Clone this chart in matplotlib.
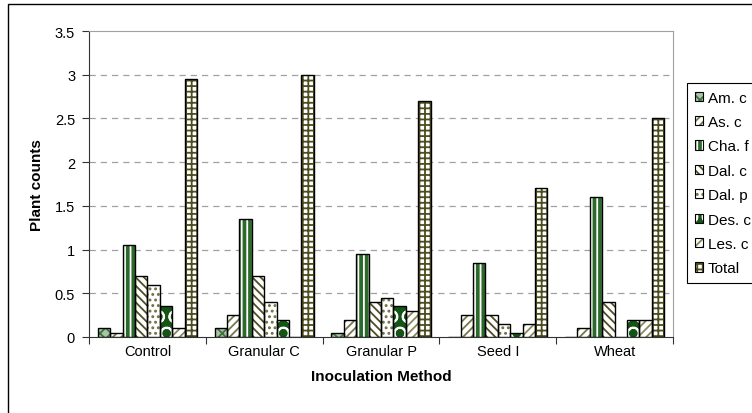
import numpy as np
import matplotlib.pyplot as plt
from matplotlib.patches import Rectangle
from matplotlib.legend_handler import HandlerTuple

plt.rcParams['font.family'] = ['Liberation Sans', 'DejaVu Sans']
plt.rcParams['hatch.linewidth'] = 1.3

# --- dados ---
metodos = ['Control', 'Granular C', 'Granular P', 'Seed I', 'Wheat']
especies = ['Am. c', 'As. c', 'Cha. f', 'Dal. c', 'Dal. p', 'Des. c', 'Les. c', 'Total']

am_c = [0.10, 0.10, 0.05, 0.00, 0.00]
as_c = [0.05, 0.25, 0.20, 0.25, 0.10]
cha_f = [1.05, 1.35, 0.95, 0.85, 1.60]
dal_c = [0.70, 0.70, 0.40, 0.25, 0.40]
dal_p = [0.60, 0.40, 0.45, 0.15, 0.00]
des_c = [0.35, 0.20, 0.35, 0.05, 0.20]
les_c = [0.10, 0.00, 0.30, 0.15, 0.20]
total = [2.95, 3.00, 2.70, 1.70, 2.50]

series = [am_c, as_c, cha_f, dal_c, dal_p, des_c, les_c, total]

# estilo de cada serie: (cor de fundo, hachura, cor da hachura)
estilos = [
    ('#a9c4a9', 'xxx', '#3f723f'),
    ('#ffffff', '////', '#77774a'),
    ('#2c6a2c', '|||', '#ffffff'),
    ('#ffffff', '\\\\\\\\', '#4f4f22'),
    ('#ffffff', '...', '#6f6f40'),
    ('#145414', 'O', '#ffffff'),
    ('#ffffff', '////', '#8a8a58'),
    ('#ffffff', '+++', '#4d4d1f'),
]

fig = plt.figure(figsize=(7.52, 4.14), dpi=100)
ax = fig.add_axes([89 / 752, 76 / 414, 584 / 752, 306 / 414])

x = np.arange(len(metodos)) + 0.5
largura = 0.106
n = len(series)

handles = []
for i, (valores, (fc, hatch, hc)) in enumerate(zip(series, estilos)):
    pos = x + (i - (n - 1) / 2) * largura
    ax.bar(pos, valores, largura, color=fc, hatch=hatch, edgecolor=hc,
           linewidth=0, zorder=3)
    ax.bar(pos, valores, largura, fill=False, edgecolor='black',
           linewidth=1.0, zorder=4)
    fundo = Rectangle((0, 0), 1, 1, facecolor=fc, hatch=hatch,
                      edgecolor=hc, linewidth=0)
    borda = Rectangle((0, 0), 1, 1, fill=False, edgecolor='black',
                      linewidth=0.8)
    handles.append((fundo, borda))

ax.set_xlim(0, len(metodos))
ax.set_ylim(0, 3.5)
ax.set_yticks(np.arange(0, 3.51, 0.5))
ax.set_yticklabels(['0', '0.5', '1', '1.5', '2', '2.5', '3', '3.5'])
ax.set_xticks(np.arange(0, len(metodos) + 1))
ax.set_xticklabels([])
ax.set_xticks(x, minor=True)
ax.set_xticklabels(metodos, minor=True)
ax.tick_params(axis='x', which='minor', length=0, pad=5, labelsize=10.5)
ax.tick_params(axis='x', which='major', length=5, direction='out', color='#333333')
ax.tick_params(axis='y', length=5, direction='out', pad=5, labelsize=10.5,
               color='#333333')

for g in np.arange(0.5, 3.01, 0.5):
    ax.axhline(g, color='#a0a0a0', linestyle=(0, (5, 4)), linewidth=0.9, zorder=1)

ax.spines['left'].set_color('#333333')
ax.spines['bottom'].set_color('#333333')
ax.spines['top'].set_color('#a0a0a0')
ax.spines['right'].set_color('#a0a0a0')

ax.set_ylabel('Plant counts', fontsize=11, fontweight='bold')
ax.set_xlabel('Inoculation Method', fontsize=11, fontweight='bold')
ax.yaxis.set_label_coords(-0.077, 0.5)
ax.xaxis.set_label_coords(0.5, -0.103)

leg = fig.legend(handles, especies, loc='upper left',
                 handler_map={tuple: HandlerTuple(ndivide=1, pad=0)},
                 bbox_to_anchor=(687 / 752, 1 - 84 / 414),
                 fontsize=11, handlelength=0.55, handleheight=0.55,
                 handletextpad=0.3, labelspacing=0.68, borderpad=0.5,
                 borderaxespad=0, fancybox=False, framealpha=1)
leg.get_frame().set_edgecolor('black')
leg.get_frame().set_linewidth(0.8)

# moldura externa do grafico
fig.patches.append(Rectangle((8 / 752, -0.5), 2, 1.5 - 5 / 414,
                             transform=fig.transFigure, fill=False,
                             edgecolor='black', linewidth=1.0))

fig.savefig('out.png', dpi=100)
